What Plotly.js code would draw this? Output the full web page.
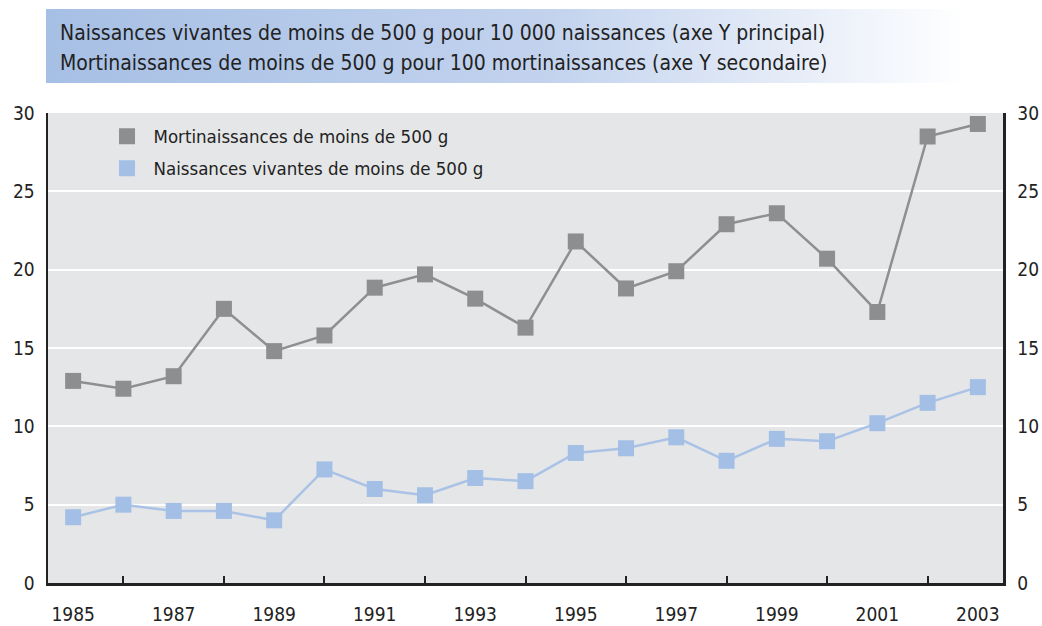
<!DOCTYPE html>
<html>
<head>
<meta charset="utf-8">
<script src="https://cdn.plot.ly/plotly-3.0.1.min.js"></script>
<style>
  html, body { margin: 0; padding: 0; background: #ffffff; }
  #wrap { position: relative; width: 1042px; height: 626px; }
  #band { position: absolute; left: 46px; top: 9px; width: 920px; height: 74px;
          background: linear-gradient(to right, #a6bfe4 0%, #c3d3ee 55%, #ffffff 100%); }
  #chart { position: absolute; left: 0; top: 0; width: 1042px; height: 626px; }
</style>
</head>
<body>
<div id="wrap">
  <div id="band"></div>
  <div id="chart"></div>
</div>
<script>
const years = [1985,1986,1987,1988,1989,1990,1991,1992,1993,1994,1995,1996,1997,1998,1999,2000,2001,2002,2003];
const mortinaissances = [12.9,12.4,13.2,17.5,14.8,15.8,18.85,19.7,18.15,16.3,21.8,18.8,19.9,22.9,23.6,20.7,17.3,28.5,29.3];
const naissancesVivantes = [4.2,5.0,4.6,4.6,4.0,7.25,6.0,5.6,6.7,6.5,8.3,8.6,9.3,7.8,9.2,9.05,10.2,11.5,12.5];
const seriesNames = ["Mortinaissances de moins de 500 g", "Naissances vivantes de moins de 500 g"];
const titleLines = ["Naissances vivantes de moins de 500 g pour 10 000 naissances (axe Y principal)",
                    "Mortinaissances de moins de 500 g pour 100 mortinaissances (axe Y secondaire)"];
const yTicks = [0,5,10,15,20,25,30];
const xLabelYears = [1985,1987,1989,1991,1993,1995,1997,1999,2001,2003];

const FONT = "'Liberation Sans Narrow', 'DejaVu Sans Condensed', 'Arial Narrow', sans-serif";
const grayLine = "#8f8f8f", grayMark = "#8d8e90";
const blueLine = "#a9c2e6", blueMark = "#a3bfe6";

const traces = [
  {x: years, y: mortinaissances, mode: "lines", line: {color: grayLine, width: 2.5}, showlegend: false, hoverinfo: "skip"},
  {x: years, y: naissancesVivantes, mode: "lines", line: {color: blueLine, width: 2.5}, showlegend: false, hoverinfo: "skip"},
  {x: years, y: mortinaissances, mode: "markers", name: seriesNames[0], legendgroup: "a", marker: {symbol: "square", size: 16, color: grayMark}},
  {x: years, y: naissancesVivantes, mode: "markers", name: seriesNames[1], legendgroup: "b", marker: {symbol: "square", size: 16, color: blueMark}},
  {x: years, y: naissancesVivantes, yaxis: "y2", mode: "markers", marker: {opacity: 0}, showlegend: false, hoverinfo: "skip"}
];

const layout = {
  width: 1042, height: 626,
  margin: {l: 48, r: 39, t: 113, b: 43},
  paper_bgcolor: "rgba(0,0,0,0)",
  plot_bgcolor: "#e5e6e8",
  font: {family: FONT, size: 20, color: "#222222"},
  showlegend: true,
  legend: {x: 0.055, y: 0.99, xanchor: "left", yanchor: "top", bgcolor: "rgba(0,0,0,0)",
           font: {family: FONT, size: 18.5, color: "#222222"}, traceorder: "grouped", tracegroupgap: 5, itemwidth: 43},
  xaxis: {
    type: "linear", range: [1984.5, 2003.5], tickvals: xLabelYears, ticktext: xLabelYears.map(String),
    ticks: "", showgrid: false, zeroline: false, showline: true, linecolor: "#222222", linewidth: 2.5,
    tickfont: {family: FONT, size: 19, color: "#222222"}, ticklabelstandoff: 13,
    minor: {tick0: 1986, dtick: 2, ticks: "inside", ticklen: 7, tickwidth: 2, tickcolor: "#222222", showgrid: false}
  },
  yaxis: {
    range: [0, 30], tickvals: yTicks, ticks: "", showgrid: true, gridcolor: "#ffffff", gridwidth: 2,
    zeroline: false, showline: true, linecolor: "#222222", linewidth: 2.5,
    tickfont: {family: FONT, size: 19, color: "#222222"}, ticklabelstandoff: 7
  },
  yaxis2: {
    overlaying: "y", side: "right", range: [0, 30], tickvals: yTicks, ticks: "", showgrid: false,
    zeroline: false, showline: true, linecolor: "#222222", linewidth: 2.5,
    tickfont: {family: FONT, size: 19, color: "#222222"}, ticklabelstandoff: 8
  },
  annotations: [
    {text: titleLines[0], xref: "paper", yref: "paper", x: 0, y: 1, xanchor: "left", yanchor: "middle",
     xshift: 10, yshift: 80, showarrow: false, font: {family: FONT, size: 21, color: "#222222"}},
    {text: titleLines[1], xref: "paper", yref: "paper", x: 0, y: 1, xanchor: "left", yanchor: "middle",
     xshift: 10, yshift: 50, showarrow: false, font: {family: FONT, size: 21, color: "#222222"}}
  ]
};

Plotly.newPlot("chart", traces, layout, {staticPlot: true, displayModeBar: false});
</script>
</body>
</html>
